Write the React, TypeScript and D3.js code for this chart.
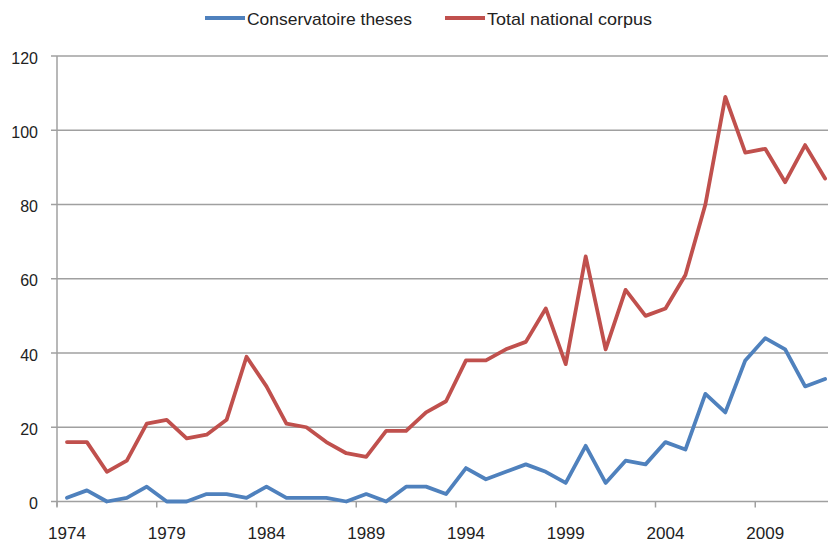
import React from "react";
import * as d3 from "d3";

// Yearly counts, 1974–2012
const years: number[] = d3.range(1974, 2013);
const conservatoireTheses: number[] = [
  1, 3, 0, 1, 4, 0, 0, 2, 2, 1, 4, 1, 1, 1, 0, 2, 0, 4, 4, 2,
  9, 6, 8, 10, 8, 5, 15, 5, 11, 10, 16, 14, 29, 24, 38, 44, 41, 31, 33,
];
const totalNationalCorpus: number[] = [
  16, 16, 8, 11, 21, 22, 17, 18, 22, 39, 31, 21, 20, 16, 13, 12, 19, 19, 24, 27,
  38, 38, 41, 43, 52, 37, 66, 41, 57, 50, 52, 61, 80, 109, 94, 95, 86, 96, 87,
];
const yTicks: number[] = [0, 20, 40, 60, 80, 100, 120];
const labelledYears: number[] = [1974, 1979, 1984, 1989, 1994, 1999, 2004, 2009];

const series = [
  { name: "Conservatoire theses", values: conservatoireTheses, color: "#4f81bd" },
  { name: "Total national corpus", values: totalNationalCorpus, color: "#c0504d" },
];

const W = 828;
const H = 542;
const left = 57;
const bottom = 501.5;
const top = 56;
const step = 19.95;
const font = "'Liberation Sans', Arial, sans-serif";
const axisColor = "#a0a0a0";

// legend entry placement: swatch start and text start/width
const legendPos = [
  { x: 205, textX: 247, textW: 165 },
  { x: 445, textX: 487, textW: 165 },
];

export default function App() {
  const x = d3
    .scaleBand<number>()
    .domain(years)
    .range([left, left + step * years.length])
    .paddingInner(0)
    .paddingOuter(0);
  const y = d3.scaleLinear().domain([0, 120]).range([bottom, top]);
  const cx = (yr: number) => (x(yr) as number) + x.bandwidth() / 2;

  const line = d3
    .line<number>()
    .x((_, i) => cx(years[i]))
    .y((d) => y(d));

  return (
    <svg
      width={W}
      height={H}
      style={{ position: "absolute", left: 0, top: 0, background: "#fff" }}
      fontFamily={font}
    >
      {/* horizontal gridlines and value labels */}
      {yTicks.map((t) => (
        <g key={t}>
          {t > 0 && (
            <line x1={51} x2={W} y1={y(t)} y2={y(t)} stroke={axisColor} strokeWidth={1.5} />
          )}
          <text
            x={38}
            y={y(t) + 2}
            textAnchor="end"
            dominantBaseline="central"
            fontSize={16}
            fill="#222"
          >
            {t}
          </text>
        </g>
      ))}

      {/* axes */}
      <line x1={left} x2={left} y1={top} y2={bottom + 5} stroke={axisColor} strokeWidth={1.5} />
      <line x1={51} x2={W} y1={bottom} y2={bottom} stroke={axisColor} strokeWidth={1.5} />
      {labelledYears.map((yr) => (
        <g key={yr}>
          <line
            x1={x(yr) as number}
            x2={x(yr) as number}
            y1={bottom}
            y2={bottom + 6}
            stroke={axisColor}
            strokeWidth={1.5}
          />
          <text x={cx(yr)} y={539} textAnchor="middle" fontSize={17} fill="#222">
            {yr}
          </text>
        </g>
      ))}

      {/* series lines */}
      {series.map((s) => (
        <path
          key={s.name}
          d={line(s.values) ?? ""}
          fill="none"
          stroke={s.color}
          strokeWidth={3.8}
          strokeLinejoin="round"
          strokeLinecap="round"
        />
      ))}

      {/* legend */}
      {series.map((s, i) => (
        <g key={s.name}>
          <line
            x1={legendPos[i].x}
            x2={legendPos[i].x + 40}
            y1={18}
            y2={18}
            stroke={s.color}
            strokeWidth={3.8}
          />
          <text
            x={legendPos[i].textX}
            y={19}
            dominantBaseline="central"
            fontSize={17}
            fill="#222"
            textLength={legendPos[i].textW}
            lengthAdjust="spacingAndGlyphs"
          >
            {s.name}
          </text>
        </g>
      ))}
    </svg>
  );
}
